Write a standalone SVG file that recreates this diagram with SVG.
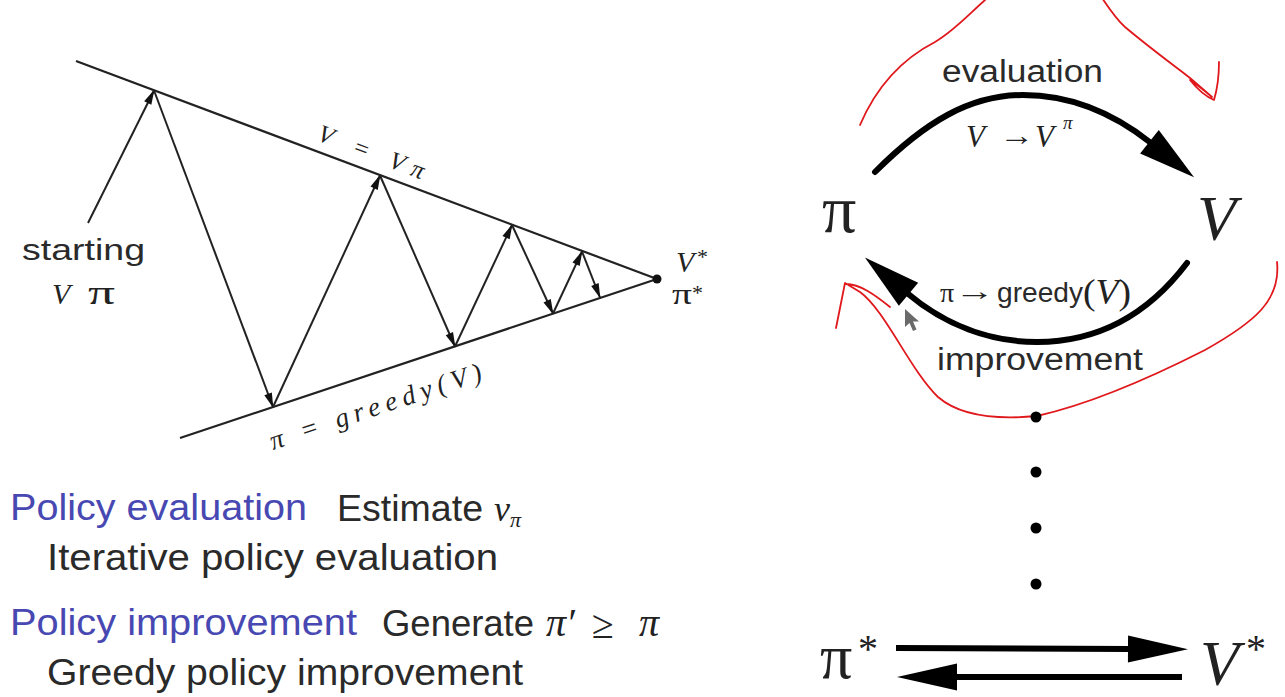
<svg xmlns="http://www.w3.org/2000/svg" width="1285" height="697" viewBox="0 0 1285 697">
<style>
.ln{stroke:#222;stroke-width:2.2;fill:none}
.ar{stroke:#222;stroke-width:2;fill:none;marker-end:url(#sm)}
.big{stroke:#000;stroke-width:6;fill:none;stroke-linecap:round}
.red{stroke:#e0181c;stroke-width:1.8;fill:none;stroke-linecap:round;stroke-linejoin:round}
.sans{font-family:"Liberation Sans",Arial,sans-serif;fill:#2a2a2a}
.ser{font-family:"Liberation Serif","Times New Roman",serif;fill:#222}
.it{font-style:italic}
.blue{fill:#4848b2}
</style>
<defs>
<marker id="sm" markerUnits="userSpaceOnUse" markerWidth="18" markerHeight="10" viewBox="0 -5 18 10" refX="14" refY="0" orient="auto" overflow="visible">
<path d="M0,-4 L15,0 L0,4 Z" fill="#111"/>
</marker>
<marker id="bm" markerUnits="userSpaceOnUse" markerWidth="60" markerHeight="34" viewBox="0 -17 60 34" refX="0" refY="0" orient="auto" overflow="visible">
<path d="M-2,-15 L55,0 L-2,15 Z" fill="#000"/>
</marker>
<marker id="hm" markerUnits="userSpaceOnUse" markerWidth="62" markerHeight="30" viewBox="0 -15 62 30" refX="0" refY="0" orient="auto" overflow="visible">
<path d="M-2,-13.5 L58,0 L-2,13.5 Z" fill="#000"/>
</marker>
</defs>
<rect width="1285" height="697" fill="#fff"/>

<g id="left-diagram">
<line class="ln" x1="76" y1="61" x2="657" y2="279"/>
<line class="ln" x1="180" y1="438" x2="657" y2="279"/>
<circle cx="657" cy="279" r="4.5" fill="#111"/>
</g>

<g id="left-connectors">
<line class="ar" x1="88" y1="223" x2="154" y2="90.5"/>
<line class="ar" x1="154" y1="90.5" x2="273" y2="407"/>
<line class="ar" x1="273" y1="407" x2="380" y2="175.5"/>
<line class="ar" x1="380" y1="175.5" x2="455" y2="346.5"/>
<line class="ar" x1="455" y1="346.5" x2="512" y2="225"/>
<line class="ar" x1="512" y1="225" x2="553" y2="313.5"/>
<line class="ar" x1="553" y1="313.5" x2="582" y2="251.5"/>
<line class="ar" x1="582" y1="251.5" x2="600" y2="297.5"/>
</g>

<g id="left-labels">
<text class="sans" x="22" y="260" font-size="30" textLength="123" lengthAdjust="spacingAndGlyphs">starting</text>
<text class="ser it" x="52" y="304" font-size="30">V</text>
<text class="ser" x="88" y="304" font-size="34" textLength="27" lengthAdjust="spacingAndGlyphs">π</text>
<text class="ser it" font-size="25" transform="translate(316,140) rotate(20.57)" textLength="112" lengthAdjust="spacing">V = Vπ</text>
<text class="ser it" font-size="27" transform="translate(273,450) rotate(-18.43)" textLength="222" lengthAdjust="spacing">π = greedy(V)</text>
<text class="ser it" x="676" y="272" font-size="30">V</text>
<text class="ser" x="697" y="264" font-size="22">*</text>
<text class="ser" x="672" y="304" font-size="30" textLength="20" lengthAdjust="spacingAndGlyphs">π</text>
<text class="ser" x="692" y="300" font-size="22">*</text>
</g>

<g id="annotations">
<path class="red" d="M860,125 C875,90 900,60 935,42 C955,30 968,15 985,0 C1005,-25 1030,-45 1055,-45 C1085,-45 1100,5 1125,27 C1150,48 1172,64 1190,78 L1212,97 C1206,92 1196,84 1190,80 C1198,90 1207,97 1214,100 C1217,90 1219,75 1219,62"/>
<path class="red" d="M1277,262 C1281,300 1255,322 1205,350 C1150,378 1090,404 1037,416 C995,420 960,416 938,397 C910,370 885,310 860,292 L845,283 L836,328 M846,284 C860,284 875,295 890,307"/>
<path d="M905,309 L905,327 L909.5,323 L913,331 L916.5,329.5 L913,321.5 L919,321.5 Z" fill="#6a6a6a"/>
</g>

<g id="node-pi"><text class="ser" x="822" y="232" font-size="68">π</text></g>
<g id="node-V"><text class="ser it" x="1197" y="240" font-size="64">V</text></g>
<g id="node-pistar"><text class="ser" x="820" y="678" font-size="64">π</text><text class="ser" x="858" y="662" font-size="40">*</text></g>
<g id="node-vstar"><text class="ser it" x="1200" y="685" font-size="64">V</text><text class="ser" x="1246" y="662" font-size="40">*</text></g>

<g id="dots" fill="#000">
<circle cx="1036" cy="417" r="5.5"/>
<circle cx="1036" cy="472" r="5.5"/>
<circle cx="1036" cy="528" r="5.5"/>
<circle cx="1036" cy="584" r="5.5"/>
</g>

<g id="right-connectors">
<path class="big" d="M875,172 C925,122 970,95 1023,95 C1070,95 1112,112 1151,143" marker-end="url(#bm)"/>
<path class="big" d="M1187,263 C1140,325 1085,342 1037,342 C990,342 945,325 907,293" marker-end="url(#bm)"/>
<line class="big" x1="896" y1="648" x2="1130" y2="649" style="stroke-linecap:butt" marker-end="url(#hm)"/>
<line class="big" x1="1182" y1="677" x2="955" y2="677" style="stroke-linecap:butt" marker-end="url(#hm)"/>
</g>

<g id="right-labels">
<text class="sans" x="942" y="82" font-size="31" textLength="161" lengthAdjust="spacingAndGlyphs">evaluation</text>
<text class="ser it" x="966" y="147" font-size="31" fill="#333">V</text>
<text class="ser" x="999" y="145" font-size="28" fill="#333" textLength="35" lengthAdjust="spacingAndGlyphs">→</text>
<text class="ser it" x="1035" y="147" font-size="31" fill="#333">V</text>
<text class="ser it" x="1063" y="129" font-size="19" fill="#333">π</text>
<text class="ser" x="940" y="302" font-size="28">π</text>
<text class="ser" x="955" y="300" font-size="26" textLength="40" lengthAdjust="spacingAndGlyphs">→</text>
<text class="sans" x="997" y="302" font-size="28" textLength="86" lengthAdjust="spacingAndGlyphs">greedy</text>
<text class="ser" x="1083" y="304" font-size="36" textLength="48" lengthAdjust="spacingAndGlyphs">(<tspan class="it">V</tspan>)</text>
<text class="sans" x="937" y="370" font-size="31" textLength="206" lengthAdjust="spacingAndGlyphs">improvement</text>
</g>

<g id="bottom-text">
<text class="sans blue" x="10" y="520" font-size="37" textLength="297" lengthAdjust="spacingAndGlyphs">Policy evaluation</text>
<text class="sans" x="337" y="521" font-size="37" textLength="146" lengthAdjust="spacingAndGlyphs">Estimate</text>
<text class="ser it" x="494" y="521" font-size="36">v<tspan font-size="22" dy="6">π</tspan></text>
<text class="sans" x="47" y="570" font-size="37" textLength="451" lengthAdjust="spacingAndGlyphs">Iterative policy evaluation</text>
<text class="sans blue" x="10" y="635" font-size="37" textLength="347" lengthAdjust="spacingAndGlyphs">Policy improvement</text>
<text class="sans" x="382" y="636" font-size="37" textLength="152" lengthAdjust="spacingAndGlyphs">Generate</text>
<text class="ser it" x="546" y="636" font-size="40">π′</text>
<text class="ser" x="592" y="638" font-size="40">≥</text>
<text class="ser it" x="639" y="636" font-size="40">π</text>
<text class="sans" x="47" y="685" font-size="37" textLength="476" lengthAdjust="spacingAndGlyphs">Greedy policy improvement</text>
</g>
</svg>
